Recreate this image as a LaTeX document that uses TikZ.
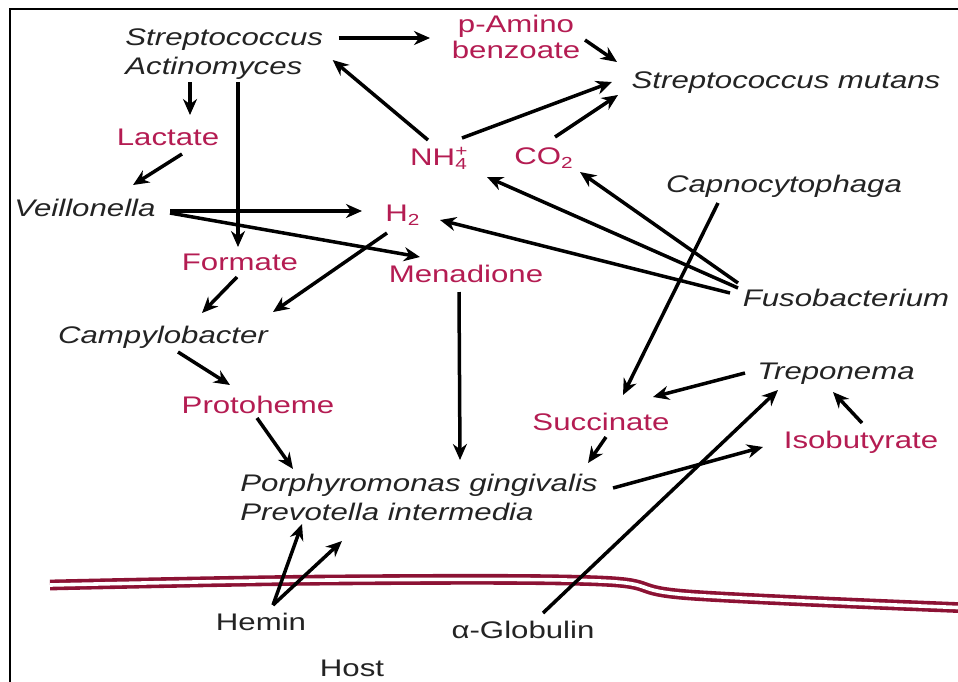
\documentclass[tikz,border=0pt]{standalone}
\usepackage{fontspec}
\setmainfont{Liberation Sans}[FakeStretch=1.3]
\usetikzlibrary{arrows.meta,calc}
\definecolor{chemred}{RGB}{180,28,82}
\definecolor{ink}{RGB}{35,35,35}
\definecolor{wall}{RGB}{140,18,52}

\begin{document}
\begin{tikzpicture}[x=0.5pt,y=-0.5pt,
lbl/.style={inner sep=0pt,text height=8.6pt,text depth=0pt,font=\fontsize{12}{13}\selectfont},
org/.style={lbl,text=ink,font=\fontsize{12}{13}\selectfont\itshape},
chem/.style={lbl,text=chemred},
hostlbl/.style={lbl,text=ink},
arr/.style={line width=1.75pt,-{Stealth[length=8pt,width=7pt]}},
membrane/.style={draw=wall,line width=1.8pt,double=white,double distance=1.8pt}]
\useasboundingbox (0,0) rectangle (958,681);
\draw[line width=1pt] (10,700) -- (10,9) -- (970,9);
% bacteria and metabolites
\node[org,anchor=west](strep) at (125,37) {Streptococcus};
\node[org,anchor=west](actino) at (125,66) {Actinomyces};
\node[inner sep=0pt,text=chemred,align=center,font=\fontsize{12}{13}\selectfont](pamino) at (516,37) {p-Amino\\benzoate};
\node[org](smutans) at (786,80) {Streptococcus mutans};
\node[chem](lactate) at (168,137) {Lactate};
\node[chem](nh4) at (439,157) {NH\rlap{\textsuperscript{+}}\textsubscript{4}};
\node[chem](co2) at (544,156) {CO\textsubscript{2}};
\node[org](capno) at (784,184) {Capnocytophaga};
\node[org](veill) at (85,208) {Veillonella};
\node[chem](h2) at (403,213) {H\textsubscript{2}};
\node[chem](formate) at (240,262) {Formate};
\node[chem](menad) at (466,274) {Menadione};
\node[org](fuso) at (846,298) {Fusobacterium};
\node[org](campy) at (163,335) {Campylobacter};
\node[org](trep) at (836,371) {Treponema};
\node[chem](proto) at (258,405) {Protoheme};
\node[chem](succ) at (601,422) {Succinate};
\node[chem](isobut) at (861,440) {Isobutyrate};
\node[org,anchor=west](porph) at (240,483) {Porphyromonas gingivalis};
\node[org,anchor=west](prevo) at (240,512) {Prevotella intermedia};
% host side
\node[hostlbl](hemin) at (261,622) {Hemin};
\node[hostlbl](glob) at (523,630) {α-Globulin};
\node[hostlbl](host) at (352,668) {Host};
\draw[membrane] plot[smooth,tension=0.6] coordinates {(50,585) (330,580) (600,581) (690,595) (970,608)};
% arrows
\draw[arr] ($(strep.east)+(15,1)$) -- ($(pamino)+(-86,1)$);
\draw[arr] ($(pamino)+(69,3)$) -- ($(smutans)+(-169,-18)$);
\draw[arr] ($(nh4)+(-11,-17)$) -- ($(actino.east)+(30,-6)$);
\draw[arr] ($(nh4)+(23,-19)$) -- ($(smutans)+(-174,2)$);
\draw[arr] ($(co2)+(11,-19)$) -- ($(smutans)+(-168,15)$);
\draw[arr] ($(actino.west)+(65,16)$) -- ($(lactate)+(22,-22)$);
\draw[arr] ($(actino.west)+(113,16)$) -- ($(formate)+(-2,-15)$);
\draw[arr] ($(lactate)+(14,17)$) -- ($(veill)+(48,-23)$);
\draw[arr] ($(veill)+(85,3)$) -- ($(h2)+(-41,-2)$);
\draw[arr] ($(veill)+(85,5)$) -- ($(menad)+(-46,-17)$);
\draw[arr] ($(h2)+(-16,20)$) -- ($(campy)+(110,-23)$);
\draw[arr] ($(formate)+(-3,15)$) -- ($(campy)+(39,-22)$);
\draw[arr] ($(fuso)+(-108,-10)$) -- ($(nh4)+(48,20)$);
\draw[arr] ($(fuso)+(-108,-15)$) -- ($(co2)+(36,16)$);
\draw[arr] ($(fuso)+(-116,-5)$) -- ($(h2)+(37,7)$);
\draw[arr] ($(capno)+(-66,19)$) -- ($(succ)+(22,-27)$);
\draw[arr] ($(menad)+(-7,18)$) -- ($(porph.west)+(220,-23)$);
\draw[arr] ($(campy)+(15,17)$) -- ($(proto)+(-28,-20)$);
\draw[arr] ($(proto)+(-1,13)$) -- ($(porph.west)+(53,-14)$);
\draw[arr] ($(trep)+(-91,2)$) -- ($(succ)+(52,-25)$);
\draw[arr] ($(succ)+(5,15)$) -- ($(porph.east)+(-10,-20)$);
\draw[arr] ($(porph.east)+(15,5)$) -- ($(isobut)+(-98,7)$);
\draw[arr] ($(glob)+(20,-17)$) -- ($(trep)+(-58,19)$);
\draw[arr] ($(isobut)+(1,-17)$) -- ($(trep)+(-3,21)$);
\draw[arr] ($(hemin)+(12,-17)$) -- ($(prevo.west)+(62,12)$);
\draw[arr] ($(hemin)+(12,-17)$) -- ($(prevo.west)+(102,29)$);
\end{tikzpicture}
\end{document}
